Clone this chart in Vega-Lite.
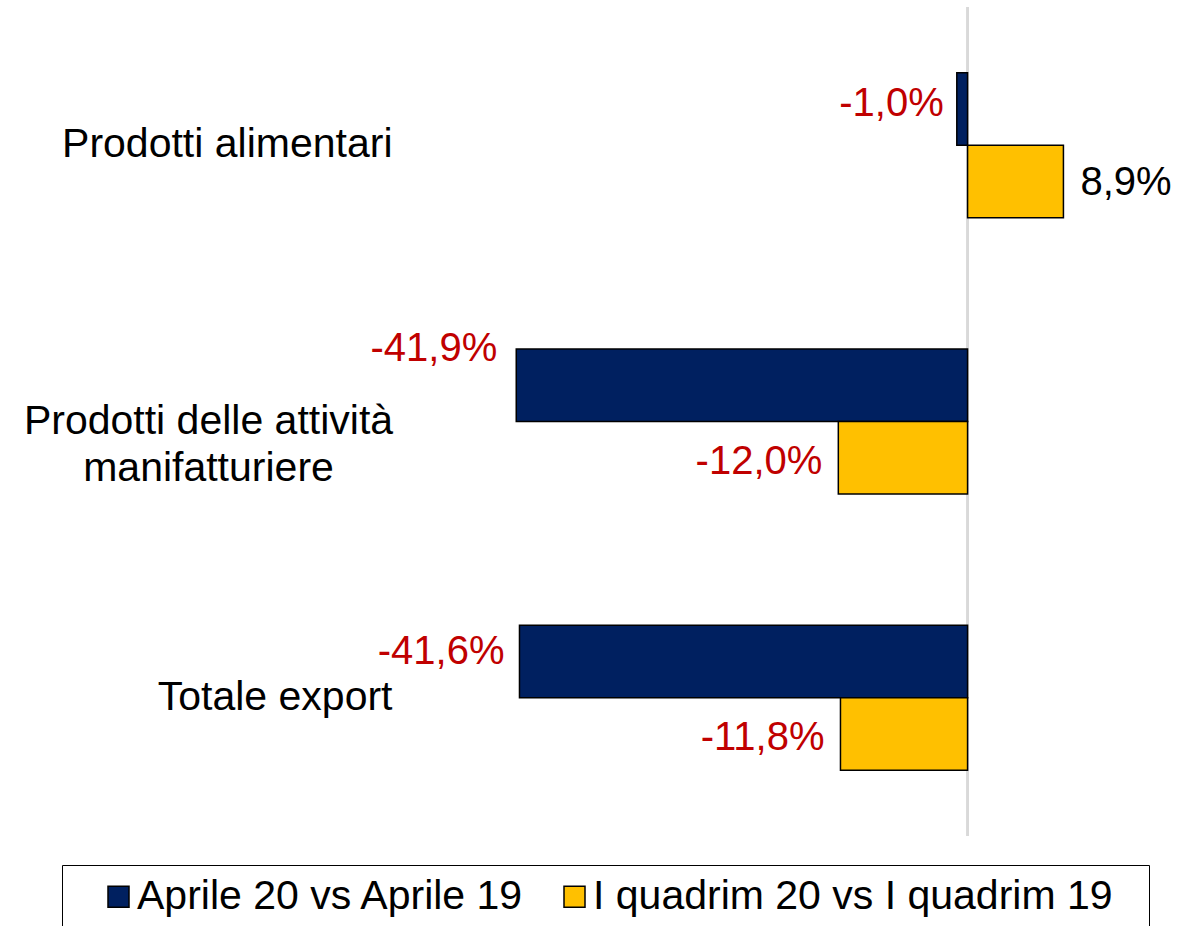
{
  "$schema": "https://vega.github.io/schema/vega-lite/v6.json",
  "width": 754,
  "height": 829,
  "autosize": {"type": "none"},
  "padding": {"left": 429, "top": 7, "right": 10, "bottom": 90},
  "background": "white",
  "data": {
    "values": [
      {"category": "Prodotti alimentari", "series": "Aprile 20 vs Aprile 19", "value": -1.0},
      {"category": "Prodotti alimentari", "series": "I quadrim 20 vs I quadrim 19", "value": 8.9},
      {"category": "Prodotti delle attività manifatturiere", "series": "Aprile 20 vs Aprile 19", "value": -41.9},
      {"category": "Prodotti delle attività manifatturiere", "series": "I quadrim 20 vs I quadrim 19", "value": -12.0},
      {"category": "Totale export", "series": "Aprile 20 vs Aprile 19", "value": -41.6},
      {"category": "Totale export", "series": "I quadrim 20 vs I quadrim 19", "value": -11.8}
    ]
  },
  "transform": [
    {"calculate": "(datum.value < 0 ? '-' : '') + replace(format(abs(datum.value), '.1f'), '.', ',') + '%'", "as": "label"}
  ],
  "config": {
    "view": {"stroke": null},
    "font": "Liberation Sans"
  },
  "layer": [
    {
      "mark": {"type": "rule", "color": "#D9D9D9", "strokeWidth": 2},
      "encoding": {
        "x": {"datum": 0, "type": "quantitative", "scale": {"domain": [-50, 20]}, "axis": null}
      }
    },
    {
      "mark": {"type": "bar", "stroke": "black", "strokeWidth": 1.5},
      "encoding": {
        "y": {
          "field": "category", "type": "nominal",
          "sort": ["Prodotti alimentari", "Prodotti delle attività manifatturiere", "Totale export"],
          "scale": {"paddingInner": 0.475, "paddingOuter": 0.2375},
          "axis": {
            "title": null, "domain": false, "ticks": false,
            "labelPadding": {"condition": {"test": "datum.value == 'Prodotti delle attività manifatturiere'", "value": 221}, "value": 37},
            "labelAlign": {"condition": {"test": "datum.value == 'Prodotti delle attività manifatturiere'", "value": "center"}, "value": "right"},
            "labelFontSize": 41, "labelColor": "black", "labelFont": "Liberation Sans",
            "labelLimit": 500, "labelLineHeight": 47,
            "labelExpr": "datum.value == 'Prodotti delle attività manifatturiere' ? ['Prodotti delle attività', 'manifatturiere'] : datum.label"
          }
        },
        "yOffset": {"field": "series", "type": "nominal", "sort": ["Aprile 20 vs Aprile 19", "I quadrim 20 vs I quadrim 19"], "scale": {"paddingInner": 0, "paddingOuter": 0}},
        "x": {"field": "value", "type": "quantitative", "scale": {"domain": [-50, 20]}, "axis": null},
        "color": {
          "field": "series", "type": "nominal",
          "scale": {"domain": ["Aprile 20 vs Aprile 19", "I quadrim 20 vs I quadrim 19"], "range": ["#002060", "#FFC000"]},
          "legend": {
            "orient": "none", "legendX": -367, "legendY": 858,
            "direction": "horizontal", "title": "\u00a0", "titleOrient": "right", "titlePadding": 25, "titleFontSize": 10,
            "strokeColor": "black", "fillColor": "white", "padding": 11,
            "symbolType": "square", "symbolSize": 441, "symbolStrokeColor": "black", "symbolStrokeWidth": 1.5,
            "symbolOpacity": 1, "symbolOffset": 25,
            "labelFont": "Liberation Sans", "labelFontSize": 41, "labelColor": "black",
            "labelOffset": -2, "columnPadding": 4, "labelLimit": 800
          }
        }
      }
    },
    {
      "transform": [{"filter": "datum.series == 'I quadrim 20 vs I quadrim 19' && datum.value < 0"}],
      "mark": {"type": "text", "align": "right", "dx": -16, "dy": 4, "fontSize": 40, "color": "#C00000"},
      "encoding": {
        "y": {"field": "category", "type": "nominal", "sort": ["Prodotti alimentari", "Prodotti delle attività manifatturiere", "Totale export"]},
        "yOffset": {"field": "series", "type": "nominal", "sort": ["Aprile 20 vs Aprile 19", "I quadrim 20 vs I quadrim 19"]},
        "x": {"field": "value", "type": "quantitative"},
        "text": {"field": "label"}
      }
    },
    {
      "transform": [{"filter": "datum.value >= 0"}],
      "mark": {"type": "text", "align": "left", "dx": 17, "dy": 2, "fontSize": 40, "color": "black"},
      "encoding": {
        "y": {"field": "category", "type": "nominal", "sort": ["Prodotti alimentari", "Prodotti delle attività manifatturiere", "Totale export"]},
        "yOffset": {"field": "series", "type": "nominal", "sort": ["Aprile 20 vs Aprile 19", "I quadrim 20 vs I quadrim 19"]},
        "x": {"field": "value", "type": "quantitative"},
        "text": {"field": "label"}
      }
    },
    {
      "transform": [{"filter": "datum.series == 'Aprile 20 vs Aprile 19' && datum.category == 'Prodotti alimentari'"}],
      "mark": {"type": "text", "align": "right", "dx": -13, "dy": -5, "fontSize": 40, "color": "#C00000"},
      "encoding": {
        "y": {"field": "category", "type": "nominal", "sort": ["Prodotti alimentari", "Prodotti delle attività manifatturiere", "Totale export"]},
        "yOffset": {"field": "series", "type": "nominal", "sort": ["Aprile 20 vs Aprile 19", "I quadrim 20 vs I quadrim 19"]},
        "x": {"field": "value", "type": "quantitative"},
        "text": {"field": "label"}
      }
    },
    {
      "transform": [{"filter": "datum.series == 'Aprile 20 vs Aprile 19' && datum.category == 'Prodotti delle attività manifatturiere'"}],
      "mark": {"type": "text", "align": "right", "dx": -19, "dy": -36, "fontSize": 40, "color": "#C00000"},
      "encoding": {
        "y": {"field": "category", "type": "nominal", "sort": ["Prodotti alimentari", "Prodotti delle attività manifatturiere", "Totale export"]},
        "yOffset": {"field": "series", "type": "nominal", "sort": ["Aprile 20 vs Aprile 19", "I quadrim 20 vs I quadrim 19"]},
        "x": {"field": "value", "type": "quantitative"},
        "text": {"field": "label"}
      }
    },
    {
      "transform": [{"filter": "datum.series == 'Aprile 20 vs Aprile 19' && datum.category == 'Totale export'"}],
      "mark": {"type": "text", "align": "right", "dx": -15, "dy": -10, "fontSize": 40, "color": "#C00000"},
      "encoding": {
        "y": {"field": "category", "type": "nominal", "sort": ["Prodotti alimentari", "Prodotti delle attività manifatturiere", "Totale export"]},
        "yOffset": {"field": "series", "type": "nominal", "sort": ["Aprile 20 vs Aprile 19", "I quadrim 20 vs I quadrim 19"]},
        "x": {"field": "value", "type": "quantitative"},
        "text": {"field": "label"}
      }
    }
  ]
}
